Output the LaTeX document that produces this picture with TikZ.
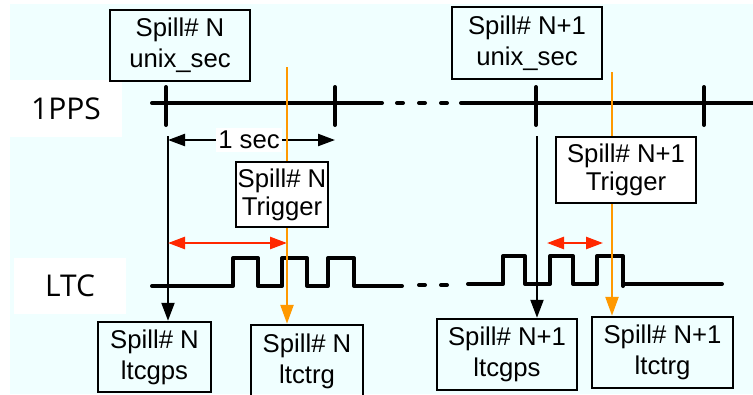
\documentclass[tikz,border=0pt]{standalone}
\usepackage{fontspec}
\setmainfont{Liberation Sans}
\newfontfamily\sigfont{Open Sans}
\usetikzlibrary{arrows.meta}
\definecolor{bgcyan}{RGB}{240,255,255}
\definecolor{orng}{RGB}{255,153,0}
\definecolor{redarr}{RGB}{255,40,0}
\newcommand\bxfont{\fontsize{25.7}{31}\selectfont}
\newcommand\trfont{\fontsize{25.7}{28}\selectfont}
\newcommand\sgfont{\sigfont\fontsize{30}{36}\selectfont}
\begin{document}
\begin{tikzpicture}[x=1pt,y=-1pt,
  box/.style={draw=black,line width=2.5pt,align=center,inner sep=0pt,font=\bxfont},
  trig/.style={box,fill=white,font=\trfont},
  sig/.style={fill=white,inner sep=0pt,font=\sgfont},
  wave/.style={line width=4pt,line cap=round,line join=round},
  tickmark/.style={line width=4pt,line cap=round},
  dotseg/.style={line width=4pt,line cap=round},
  blk/.style={line width=2.2pt,-{Triangle[length=18pt,width=13pt]}},
  org/.style={orng,line width=2.5pt,-{Triangle[length=19pt,width=13pt]}},
  dbl/.style={line width=2.2pt,{Triangle[length=17pt,width=12pt]}-{Triangle[length=17pt,width=12pt]}},
  reddbl/.style={redarr,line width=2.5pt,{Triangle[length=17pt,width=12pt]}-{Triangle[length=17pt,width=12pt]}}
]
\useasboundingbox (0,0) rectangle (753,394);
\fill[bgcyan] (10,4) rectangle (753,394);

% labels
\node[sig,minimum width=112pt,minimum height=57pt] (pps) at (66,108.5) {1PPS};
\node[sig,minimum width=112pt,minimum height=56pt] (ltc) at (70,286) {LTC};

% 1PPS line
\coordinate (p0) at (152,103);
\coordinate (p1) at (382,103);
\coordinate (p2) at (461,103);
\coordinate (p3) at (753,103);
\draw[wave] (p0) -- (p1);
\draw[wave] (p2) -- (p3);
\foreach \x in {400,422,444} \draw[dotseg] (\x-3,103) -- (\x+3,103);
\foreach \x in {166,335,536,704} \draw[tickmark] (\x,87) -- (\x,125);

% 1 sec
\coordinate (s0) at (168,140);
\coordinate (s1) at (335,140);
\draw[dbl] (s0) -- (s1);
\node[fill=white,inner sep=0pt,minimum width=66pt,minimum height=24pt,font=\bxfont] (sec) at (249,140) {1 sec};

% LTC waveform
\draw[wave] (152,286) -- (233,286) -- (233,258) -- (258,258) -- (258,286) -- (282,286) -- (282,258) -- (307,258) -- (307,286) -- (328,286) -- (328,258) -- (354,258) -- (354,286) -- (402,286);
\foreach \x in {422,444} \draw[dotseg] (\x-3,285) -- (\x+3,285);
\draw[wave] (468,284) -- (503,284) -- (503,256) -- (525,256) -- (525,284) -- (550,284) -- (550,256) -- (573,256) -- (573,284) -- (597,284) -- (597,256) -- (623,256) -- (623,286);
\draw[wave] (623,284) -- (722,284);

% boxes
\node[box,minimum width=140pt,minimum height=71pt] (uN) at (180,45.5) {Spill\# N\\unix\_sec};
\node[box,minimum width=150pt,minimum height=72pt] (uN1) at (527,43) {Spill\# N+1\\unix\_sec};
\node[box,minimum width=113pt,minimum height=70pt] (gN) at (154.5,357) {Spill\# N\\ltcgps};
\node[box,minimum width=112pt,minimum height=73pt] (rN) at (307,361.5) {Spill\# N\\ltctrg};
\node[box,minimum width=140pt,minimum height=71pt] (gN1) at (507,354.5) {Spill\# N+1\\ltcgps};
\node[box,minimum width=141pt,minimum height=71pt] (rN1) at (662.5,352.5) {Spill\# N+1\\ltctrg};

% black verticals
\coordinate (b1) at (168,136);
\coordinate (b2) at (537,136);
\draw[blk] (b1) -- (b1 |- gN.north);
\draw[blk] (b2) -- (b2 |- gN1.north);

% red arrows
\coordinate (r0) at (168,243);
\coordinate (r1) at (287,243);
\coordinate (r2) at (547,243);
\coordinate (r3) at (603,243);
\draw[reddbl] (r0) -- (r1);
\draw[reddbl] (r2) -- (r3);

% orange lines
\coordinate (o1) at (287,67);
\coordinate (o2) at (612,72);
\draw[org] (o1) -- (o1 |- rN.north);
\draw[org] (o2) -- (o2 |- rN1.north);

% trigger boxes
\node[trig,minimum width=92pt,minimum height=65pt] (tN) at (282,194.5) {Spill\# N\\Trigger};
\node[trig,minimum width=140pt,minimum height=66pt] (tN1) at (626,170) {Spill\# N+1\\Trigger};
\end{tikzpicture}
\end{document}
